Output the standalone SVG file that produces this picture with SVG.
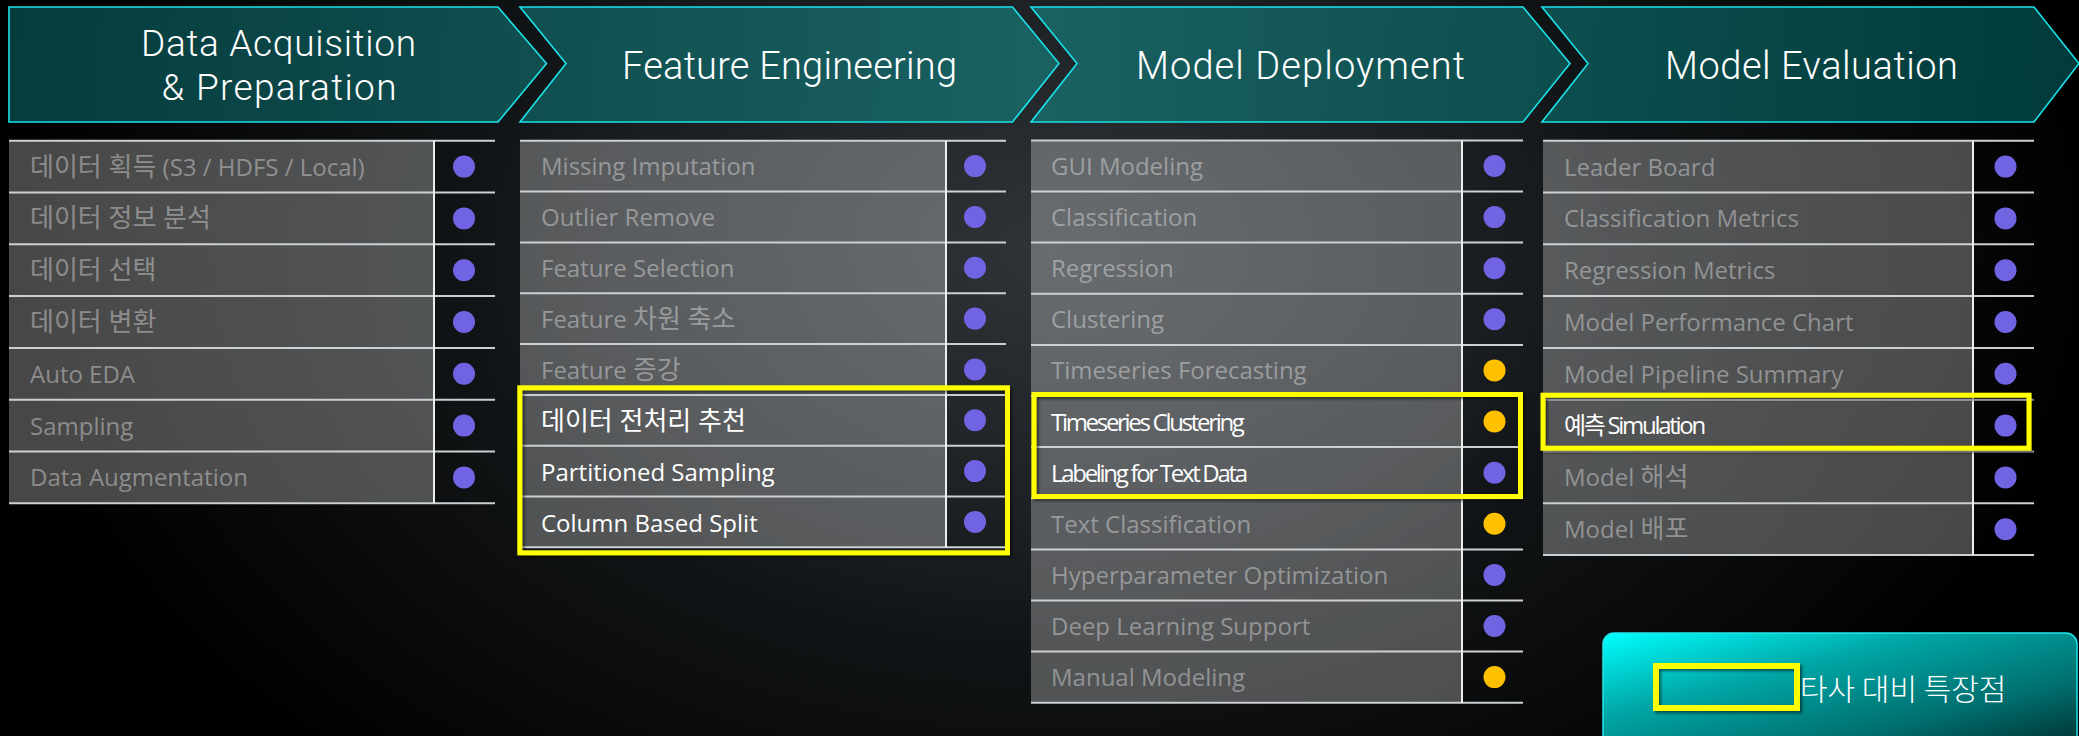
<svg xmlns="http://www.w3.org/2000/svg" width="2079" height="736" viewBox="0 0 2079 736">
  <defs>
    <radialGradient id="bgGlow" gradientUnits="userSpaceOnUse" cx="1050" cy="250" r="1050" gradientTransform="translate(1050 250) scale(1 0.67) translate(-1050 -250)">
      <stop offset="0" stop-color="#2e3438"/>
      <stop offset="0.47" stop-color="#181b1e"/>
      <stop offset="0.56" stop-color="#111416"/>
      <stop offset="0.9" stop-color="#050505"/>
      <stop offset="1" stop-color="#000"/>
    </radialGradient>
    <linearGradient id="stageFill" gradientUnits="userSpaceOnUse" x1="0" y1="0" x2="2079" y2="120">
      <stop offset="0" stop-color="#053b3c"/>
      <stop offset="0.5" stop-color="#1a6162"/>
      <stop offset="1" stop-color="#003a3a"/>
    </linearGradient>
    <linearGradient id="btnFill" x1="0" y1="0" x2="1" y2="1">
      <stop offset="0" stop-color="#00ffff"/>
      <stop offset="0.35" stop-color="#00a5a5"/>
      <stop offset="0.7" stop-color="#006e6e"/>
      <stop offset="1" stop-color="#002a2a"/>
    </linearGradient>
    <filter id="shadow" x="-5%" y="-20%" width="110%" height="140%">
      <feDropShadow dx="2" dy="2" stdDeviation="1.5" flood-color="#000" flood-opacity="0.55"/>
    </filter>
    <style>
      .stage { fill: url(#stageFill); stroke: #19e3ea; stroke-width: 1.6; }
      .title { font-family: Roboto, "Noto Sans CJK KR", sans-serif; font-weight: 300; font-size: 38px; fill: #fff; text-anchor: middle; }
      .title.two { font-size: 37px; }
      .cell { fill: #fff; fill-opacity: 0.28; }
      .rule { stroke: #cdd0d2; stroke-width: 2; }
      .divider { stroke: #eceeee; stroke-width: 2; }
      .item { font-family: "Open Sans", "Noto Sans CJK KR", sans-serif; font-size: 24px; fill: #fff; fill-opacity: 0.38; }
      .item.on { fill-opacity: 1; }
      .ko { font-size: 26px; }
      .tight { letter-spacing: -2.3px; }
      .dp { fill: #7164e2; }
      .do { fill: #ffc000; }
      .hl { fill: none; stroke: #ffff00; stroke-width: 5; filter: url(#shadow); }
      .btn-text { font-family: "Noto Sans CJK KR", sans-serif; font-weight: 300; font-size: 30px; fill: #fff; }
    </style>
  </defs>

  <!-- backdrop -->
  <rect x="0" y="0" width="2079" height="736" fill="url(#bgGlow)"/>

  <!-- process stages -->
  <g id="stage-data-acquisition">
    <path class="stage" d="M9 7 H498 L546.5 63.5 L498 122 H9 Z"/>
    <text class="title two" x="278.5" y="56" textLength="275">Data Acquisition</text>
    <text class="title two" x="279" y="100" textLength="235">&amp; Preparation</text>
  </g>
  <g id="stage-feature-engineering">
    <path class="stage" d="M520 7 H1012.5 L1059 63.5 L1012.5 122 H520 L566 63.5 Z"/>
    <text class="title" x="789.5" y="79" textLength="335">Feature Engineering</text>
  </g>
  <g id="stage-model-deployment">
    <path class="stage" d="M1031 7 H1523 L1570 63.5 L1523 122 H1031 L1077 63.5 Z"/>
    <text class="title" x="1300.5" y="79" textLength="329">Model Deployment</text>
  </g>
  <g id="stage-model-evaluation">
    <path class="stage" d="M1542 7 H2034 L2079 63.5 L2034 122 H1542 L1588 63.5 Z"/>
    <text class="title" x="1811.5" y="79" textLength="293">Model Evaluation</text>
  </g>

  <!-- stages are adjacent chevrons; no separate connector lines -->
  <g id="connectors"/>

  <!-- table 1: Data Acquisition & Preparation -->
  <g id="table-data">
    <rect class="cell" x="9" y="140.7" width="425" height="362.6"/>
    <g class="rule">
      <line x1="9" y1="140.7" x2="495" y2="140.7"/>
      <line x1="9" y1="192.5" x2="495" y2="192.5"/>
      <line x1="9" y1="244.3" x2="495" y2="244.3"/>
      <line x1="9" y1="296.1" x2="495" y2="296.1"/>
      <line x1="9" y1="347.9" x2="495" y2="347.9"/>
      <line x1="9" y1="399.7" x2="495" y2="399.7"/>
      <line x1="9" y1="451.5" x2="495" y2="451.5"/>
      <line x1="9" y1="503.3" x2="495" y2="503.3"/>
    </g>
    <line class="divider" x1="434" y1="140.7" x2="434" y2="503.3"/>
    <g id="d1"><text class="item" x="30" y="175.6"><tspan class="ko">데이터 획득</tspan> (S3 / HDFS / Local)</text><circle class="dp" cx="464" cy="166.6" r="11"/></g>
    <g id="d2"><text class="item" x="30" y="227.4"><tspan class="ko">데이터 정보 분석</tspan></text><circle class="dp" cx="464" cy="218.4" r="11"/></g>
    <g id="d3"><text class="item" x="30" y="279.2"><tspan class="ko">데이터 선택</tspan></text><circle class="dp" cx="464" cy="270.2" r="11"/></g>
    <g id="d4"><text class="item" x="30" y="331"><tspan class="ko">데이터 변환</tspan></text><circle class="dp" cx="464" cy="322" r="11"/></g>
    <g id="d5"><text class="item" x="30" y="382.8">Auto EDA</text><circle class="dp" cx="464" cy="373.8" r="11"/></g>
    <g id="d6"><text class="item" x="30" y="434.6">Sampling</text><circle class="dp" cx="464" cy="425.6" r="11"/></g>
    <g id="d7"><text class="item" x="30" y="486.4">Data Augmentation</text><circle class="dp" cx="464" cy="477.4" r="11"/></g>
  </g>

  <!-- table 2: Feature Engineering -->
  <g id="table-feature">
    <rect class="cell" x="520" y="140.7" width="426" height="406.6"/>
    <g class="rule">
      <line x1="520" y1="140.7" x2="1006" y2="140.7"/>
      <line x1="520" y1="191.5" x2="1006" y2="191.5"/>
      <line x1="520" y1="242.4" x2="1006" y2="242.4"/>
      <line x1="520" y1="293.2" x2="1006" y2="293.2"/>
      <line x1="520" y1="344" x2="1006" y2="344"/>
      <line x1="520" y1="394.9" x2="1006" y2="394.9"/>
      <line x1="520" y1="445.7" x2="1006" y2="445.7"/>
      <line x1="520" y1="496.5" x2="1006" y2="496.5"/>
      <line x1="520" y1="547.3" x2="1006" y2="547.3"/>
    </g>
    <line class="divider" x1="946" y1="140.7" x2="946" y2="547.3"/>
    <g id="f1"><text class="item" x="541" y="175.1">Missing Imputation</text><circle class="dp" cx="975" cy="166.1" r="11"/></g>
    <g id="f2"><text class="item" x="541" y="226">Outlier Remove</text><circle class="dp" cx="975" cy="217" r="11"/></g>
    <g id="f3"><text class="item" x="541" y="276.8">Feature Selection</text><circle class="dp" cx="975" cy="267.8" r="11"/></g>
    <g id="f4"><text class="item" x="541" y="327.6">Feature <tspan class="ko">차원 축소</tspan></text><circle class="dp" cx="975" cy="318.6" r="11"/></g>
    <g id="f5"><text class="item" x="541" y="378.5">Feature <tspan class="ko">증강</tspan></text><circle class="dp" cx="975" cy="369.5" r="11"/></g>
    <g id="f6"><text class="item on" x="541" y="430"><tspan class="ko">데이터 전처리 추천</tspan></text><circle class="dp" cx="975" cy="420.3" r="11"/></g>
    <g id="f7"><text class="item on" x="541" y="481">Partitioned Sampling</text><circle class="dp" cx="975" cy="471.1" r="11"/></g>
    <g id="f8"><text class="item on" x="541" y="532">Column Based Split</text><circle class="dp" cx="975" cy="521.9" r="11"/></g>
    <rect class="hl" x="519.8" y="387.8" width="487.7" height="165"/>
  </g>

  <!-- table 3: Model Deployment -->
  <g id="table-deployment">
    <rect class="cell" x="1031" y="140.4" width="431" height="562.3"/>
    <g class="rule">
      <line x1="1031" y1="140.4" x2="1523" y2="140.4"/>
      <line x1="1031" y1="191.5" x2="1523" y2="191.5"/>
      <line x1="1031" y1="242.6" x2="1523" y2="242.6"/>
      <line x1="1031" y1="293.8" x2="1523" y2="293.8"/>
      <line x1="1031" y1="344.9" x2="1523" y2="344.9"/>
      <line x1="1031" y1="396" x2="1523" y2="396"/>
      <line x1="1031" y1="447.1" x2="1523" y2="447.1"/>
      <line x1="1031" y1="498.2" x2="1523" y2="498.2"/>
      <line x1="1031" y1="549.4" x2="1523" y2="549.4"/>
      <line x1="1031" y1="600.5" x2="1523" y2="600.5"/>
      <line x1="1031" y1="651.6" x2="1523" y2="651.6"/>
      <line x1="1031" y1="702.7" x2="1523" y2="702.7"/>
    </g>
    <line class="divider" x1="1462" y1="140.4" x2="1462" y2="702.7"/>
    <g id="m1"><text class="item" x="1051" y="175">GUI Modeling</text><circle class="dp" cx="1494.5" cy="166" r="11"/></g>
    <g id="m2"><text class="item" x="1051" y="226.1">Classification</text><circle class="dp" cx="1494.5" cy="217.1" r="11"/></g>
    <g id="m3"><text class="item" x="1051" y="277.2">Regression</text><circle class="dp" cx="1494.5" cy="268.2" r="11"/></g>
    <g id="m4"><text class="item" x="1051" y="328.3">Clustering</text><circle class="dp" cx="1494.5" cy="319.3" r="11"/></g>
    <g id="m5"><text class="item" x="1051" y="379.4">Timeseries Forecasting</text><circle class="do" cx="1494.5" cy="370.4" r="11"/></g>
    <g id="m6"><text class="item on tight" x="1051" y="430.5">Timeseries Clustering</text><circle class="do" cx="1494.5" cy="421.5" r="11"/></g>
    <g id="m7"><text class="item on tight" x="1051" y="481.7">Labeling for Text Data</text><circle class="dp" cx="1494.5" cy="472.7" r="11"/></g>
    <g id="m8"><text class="item" x="1051" y="532.8">Text Classification</text><circle class="do" cx="1494.5" cy="523.8" r="11"/></g>
    <g id="m9"><text class="item" x="1051" y="583.9">Hyperparameter Optimization</text><circle class="dp" cx="1494.5" cy="574.9" r="11"/></g>
    <g id="m10"><text class="item" x="1051" y="635">Deep Learning Support</text><circle class="dp" cx="1494.5" cy="626" r="11"/></g>
    <g id="m11"><text class="item" x="1051" y="686.1">Manual Modeling</text><circle class="do" cx="1494.5" cy="677.1" r="11"/></g>
    <rect class="hl" x="1034" y="394.5" width="486.5" height="102"/>
  </g>

  <!-- table 4: Model Evaluation -->
  <g id="table-evaluation">
    <rect class="cell" x="1543" y="140.7" width="430" height="414.4"/>
    <g class="rule">
      <line x1="1543" y1="140.7" x2="2034" y2="140.7"/>
      <line x1="1543" y1="192.5" x2="2034" y2="192.5"/>
      <line x1="1543" y1="244.3" x2="2034" y2="244.3"/>
      <line x1="1543" y1="296.1" x2="2034" y2="296.1"/>
      <line x1="1543" y1="347.9" x2="2034" y2="347.9"/>
      <line x1="1543" y1="399.7" x2="2034" y2="399.7"/>
      <line x1="1543" y1="451.5" x2="2034" y2="451.5"/>
      <line x1="1543" y1="503.3" x2="2034" y2="503.3"/>
      <line x1="1543" y1="555.1" x2="2034" y2="555.1"/>
    </g>
    <line class="divider" x1="1973" y1="140.7" x2="1973" y2="555.1"/>
    <g id="e1"><text class="item" x="1564" y="175.6">Leader Board</text><circle class="dp" cx="2005.5" cy="166.6" r="11"/></g>
    <g id="e2"><text class="item" x="1564" y="227.4">Classification Metrics</text><circle class="dp" cx="2005.5" cy="218.4" r="11"/></g>
    <g id="e3"><text class="item" x="1564" y="279.2">Regression Metrics</text><circle class="dp" cx="2005.5" cy="270.2" r="11"/></g>
    <g id="e4"><text class="item" x="1564" y="331">Model Performance Chart</text><circle class="dp" cx="2005.5" cy="322" r="11"/></g>
    <g id="e5"><text class="item" x="1564" y="382.8">Model Pipeline Summary</text><circle class="dp" cx="2005.5" cy="373.8" r="11"/></g>
    <g id="e6"><text class="item on tight" x="1564" y="434">예측 Simulation</text><circle class="dp" cx="2005.5" cy="425.6" r="11"/></g>
    <g id="e7"><text class="item" x="1564" y="486.4">Model <tspan class="ko">해석</tspan></text><circle class="dp" cx="2005.5" cy="477.4" r="11"/></g>
    <g id="e8"><text class="item" x="1564" y="538.2">Model <tspan class="ko">배포</tspan></text><circle class="dp" cx="2005.5" cy="529.2" r="11"/></g>
    <rect class="hl" x="1543" y="395.2" width="486" height="53"/>
  </g>

  <!-- comparison button -->
  <g id="button-compare">
    <rect x="1603" y="633" width="474" height="120" rx="11" fill="url(#btnFill)" stroke="#22e6ea" stroke-width="1.5"/>
    <rect class="hl" x="1656" y="666" width="141" height="42" style="stroke-width:6"/>
    <text class="btn-text" x="1800" y="700">타사 대비 특장점</text>
  </g>
</svg>
